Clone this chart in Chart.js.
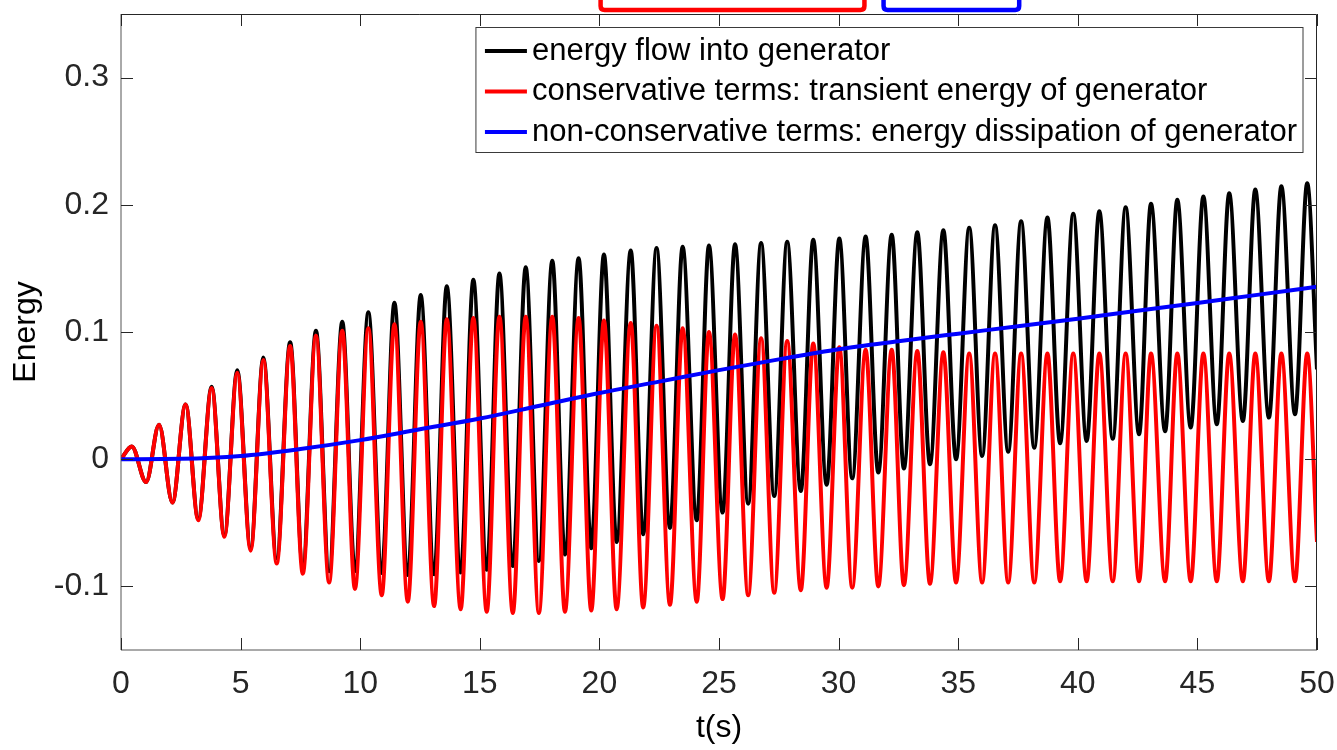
<!DOCTYPE html>
<html>
<head>
<meta charset="utf-8">
<script src="https://cdn.jsdelivr.net/npm/chart.js@4.4.1/dist/chart.umd.min.js"></script>
<style>
  html, body { margin: 0; padding: 0; background: #ffffff; }
  #wrap { width: 1337px; height: 750px; position: relative; }
</style>
</head>
<body>
<div id="wrap"><canvas id="c" width="1337" height="750"></canvas></div>
<script>
// ---------------- data ----------------
const seriesLabels = [
  'energy flow into generator',
  'conservative terms: transient energy of generator',
  'non-conservative terms: energy dissipation of generator'
];
const xTicks = [0, 5, 10, 15, 20, 25, 30, 35, 40, 45, 50];
const xTickLabels = ['0', '5', '10', '15', '20', '25', '30', '35', '40', '45', '50'];
const yTicks = [-0.1, 0, 0.1, 0.2, 0.3];
const yTickLabels = ['-0.1', '0', '0.1', '0.2', '0.3'];

// times (s) of local maxima and minima of the oscillation
const peakT = [0.45, 1.59, 2.70, 3.79, 4.86, 5.95, 7.07, 8.15, 9.25,
  10.34, 11.43, 12.53, 13.62, 14.73, 15.82, 16.92, 18.03, 19.13,
  20.19, 21.31, 22.39, 23.48, 24.58, 25.67, 26.76, 27.85, 28.94,
  30.03,
  31.13, 32.22, 33.29, 34.38, 35.46, 36.54, 37.63, 38.73, 39.81,
  40.90, 42.00, 43.06, 44.16, 45.25, 46.33, 47.42, 48.51, 49.59];
const troughT = [1.05, 2.15, 3.23, 4.32, 5.42, 6.51, 7.60, 8.70, 9.78,
  10.90, 11.99, 13.09, 14.20, 15.29, 16.38, 17.47, 18.56, 19.66,
  20.72, 21.83, 22.95, 24.07, 25.15, 26.22, 27.31, 28.42, 29.50,
  30.57, 31.66, 32.73, 33.82, 34.91, 36.00, 37.09, 38.18, 39.26,
  40.37, 41.46, 42.56, 43.65, 44.72, 45.81, 46.90, 47.99, 49.08];

// conservative terms (red)
const redPeaks = [0.010, 0.027, 0.043, 0.056, 0.068, 0.078, 0.089, 0.097, 0.101,
  0.103, 0.106, 0.108, 0.110, 0.111, 0.112, 0.112, 0.112, 0.111,
  0.109, 0.107, 0.105, 0.103, 0.100, 0.098, 0.095, 0.093, 0.091,
  0.088,
  0.086, 0.086, 0.085, 0.084, 0.083, 0.083, 0.083, 0.083, 0.083,
  0.083, 0.083, 0.083, 0.083, 0.083, 0.083, 0.083, 0.083, 0.083];
const redTroughs = [-0.018, -0.034, -0.048, -0.061, -0.072, -0.082, -0.090, -0.097, -0.102,
  -0.107, -0.112, -0.1155, -0.118, -0.120, -0.121, -0.121, -0.120, -0.119,
  -0.118, -0.1165, -0.1145, -0.112, -0.110, -0.107, -0.105, -0.103, -0.101,
  -0.101, -0.100, -0.099, -0.098, -0.097, -0.097, -0.097, -0.097, -0.096,
  -0.096, -0.096, -0.096, -0.096, -0.096, -0.096, -0.096, -0.096, -0.096];
const redStart = 0;
const redEnd = -0.065;

// energy flow into generator (black)
const blackPeaks = [0.010, 0.027, 0.043, 0.057, 0.070, 0.080, 0.092, 0.101, 0.108,
  0.1155, 0.123, 0.129, 0.136, 0.141, 0.146, 0.151, 0.156, 0.158,
  0.161, 0.164, 0.166, 0.167, 0.168, 0.169, 0.170, 0.171, 0.1725,
  0.1735,
  0.175, 0.1765, 0.1785, 0.180, 0.182, 0.184, 0.187, 0.190, 0.193,
  0.195, 0.198, 0.2008, 0.204, 0.2065, 0.209, 0.212, 0.2145, 0.217];
const blackTroughs = [-0.018, -0.034, -0.047, -0.060, -0.070, -0.078, -0.084, -0.088, -0.088,
  -0.0895, -0.091, -0.0905, -0.089, -0.087, -0.084, -0.080, -0.075, -0.070,
  -0.065, -0.059, -0.054, -0.048, -0.042, -0.035, -0.029, -0.025, -0.020,
  -0.015, -0.0105, -0.0073, -0.004, 0.000, 0.0026, 0.0058, 0.009, 0.0125,
  0.0144, 0.016, 0.0196, 0.022, 0.0249, 0.0275, 0.030, 0.0327, 0.0353];
const blackStart = 0;
const blackEnd = 0.0706;

// non-conservative terms (blue)
const blueT = [0, 2.5, 5, 7.5, 10, 12.5, 15, 17.5, 20, 22.5, 25, 27.5, 30, 32.5, 35, 37.5, 40, 42.5, 45, 47.5, 50];
const blueV = [0, 0.0003, 0.0025, 0.008, 0.015, 0.0235, 0.032, 0.042, 0.052, 0.061, 0.070, 0.0785, 0.0865, 0.0928, 0.0987, 0.1045, 0.1105, 0.1167, 0.1228, 0.1292, 0.1355];

const xMin = 0, xMax = 50, yMin = -0.15, yMax = 0.35;

// ---------------- build point lists ----------------
function oscillation(startV, peaks, troughs, endV) {
  const pts = [{x: xMin, y: startV}];
  for (let i = 0; i < peakT.length; i++) {
    pts.push({x: peakT[i], y: peaks[i]});
    if (i < troughT.length) pts.push({x: troughT[i], y: troughs[i]});
  }
  pts.push({x: xMax, y: endV});
  return pts;
}
const blackPts = oscillation(blackStart, blackPeaks, blackTroughs, blackEnd);
const redPts = oscillation(redStart, redPeaks, redTroughs, redEnd);
const bluePts = blueT.map((t, i) => ({x: t, y: blueV[i]}));

// ---------------- style ----------------
const FONT = '"Liberation Sans", Arial, Helvetica, sans-serif';
const AXIS_COLOR = '#262626';

function noScalePadding(s) {
  s.paddingTop = 0; s.paddingBottom = 0; s.paddingLeft = 0; s.paddingRight = 0;
}

const frame = {
  id: 'matlabFrame',
  afterDatasetsDraw(chart) {
    const {ctx, chartArea: a, scales} = chart;
    const xs = scales.x, ys = scales.y;
    ctx.save();
    // axes box: left/bottom drawn soft (as in the reference), top/right crisp
    ctx.lineWidth = 1;
    ctx.strokeStyle = '#555555';
    ctx.beginPath();
    ctx.moveTo(a.left, a.top); ctx.lineTo(a.left, a.bottom); ctx.lineTo(a.right, a.bottom);
    ctx.stroke();
    ctx.strokeStyle = AXIS_COLOR;
    ctx.beginPath();
    ctx.moveTo(a.left, a.top + 0.5); ctx.lineTo(a.right - 0.5, a.top + 0.5); ctx.lineTo(a.right - 0.5, a.bottom);
    ctx.stroke();
    // inward ticks on all sides
    const TL = 12;
    ctx.beginPath();
    xTicks.forEach(v => {
      const px = Math.round(xs.getPixelForValue(v)) + 0.5;
      ctx.moveTo(px, a.bottom); ctx.lineTo(px, a.bottom - TL);
      ctx.moveTo(px, a.top); ctx.lineTo(px, a.top + TL);
    });
    yTicks.forEach(v => {
      const py = Math.round(ys.getPixelForValue(v)) + 0.5;
      ctx.moveTo(a.left, py); ctx.lineTo(a.left + TL, py);
      ctx.moveTo(a.right, py); ctx.lineTo(a.right - TL, py);
    });
    ctx.stroke();

    // legend box inside axes (north-east)
    ctx.font = '31px ' + FONT;
    const labels = chart.data.datasets.map(d => d.label);
    const maxW = Math.max(...labels.map(l => ctx.measureText(l).width));
    const right = a.right - 14;
    const top = a.top + 13.5;
    const left = right - maxW - 62;
    const rowH = 40.5;
    const h = rowH * labels.length + 3.5;
    ctx.fillStyle = '#ffffff';
    ctx.fillRect(left, top, right - left, h);
    ctx.strokeStyle = '#3a3a3a';
    ctx.lineWidth = 1;
    ctx.strokeRect(left, top, right - left, h);
    chart.data.datasets.forEach((d, i) => {
      const cy = top + 23.5 + i * rowH;
      ctx.strokeStyle = d.borderColor;
      ctx.lineWidth = 4;
      ctx.beginPath();
      ctx.moveTo(left + 9, cy); ctx.lineTo(left + 51, cy);
      ctx.stroke();
      ctx.fillStyle = '#000000';
      ctx.textAlign = 'left';
      ctx.textBaseline = 'middle';
      ctx.fillText(d.label, left + 56, cy);
    });

    // partially visible annotation boxes above the axes
    const boxes = [
      {x0: 20.05, x1: 31.08, color: '#ff0000'},
      {x0: 31.88, x1: 37.55, color: '#0000ff'}
    ];
    boxes.forEach(b => {
      const x0 = xs.getPixelForValue(b.x0), x1 = xs.getPixelForValue(b.x1);
      const yb = a.top - 4;
      ctx.strokeStyle = b.color;
      ctx.lineWidth = 4.5;
      ctx.beginPath();
      ctx.moveTo(x0, -20);
      ctx.lineTo(x0, yb - 4);
      ctx.quadraticCurveTo(x0, yb, x0 + 4, yb);
      ctx.lineTo(x1 - 4, yb);
      ctx.quadraticCurveTo(x1, yb, x1, yb - 4);
      ctx.lineTo(x1, -20);
      ctx.stroke();
    });
    ctx.restore();
  }
};

new Chart(document.getElementById('c'), {
  type: 'line',
  data: {
    datasets: [
      {label: seriesLabels[0], data: blackPts, borderColor: '#000000', order: 3},
      {label: seriesLabels[1], data: redPts, borderColor: '#ff0000', order: 2},
      {label: seriesLabels[2], data: bluePts, borderColor: '#0000ff', order: 1}
    ]
  },
  options: {
    responsive: false,
    animation: false,
    parsing: false,
    normalized: true,
    layout: {padding: {left: 0, top: 14, right: 20, bottom: 0}},
    elements: {
      line: {borderWidth: 4, cubicInterpolationMode: 'monotone', fill: false, capBezierPoints: true},
      point: {radius: 0, hoverRadius: 0}
    },
    plugins: {legend: {display: false}, tooltip: {enabled: false}, title: {display: false}},
    events: [],
    scales: {
      x: {
        type: 'linear', min: xMin, max: xMax,
        grid: {display: false, drawTicks: false},
        border: {display: false},
        afterBuildTicks: s => { s.ticks = xTicks.map(v => ({value: v})); },
        afterFit: s => { s.height = 100; noScalePadding(s); },
        ticks: {
          autoSkip: false, maxRotation: 0, padding: 15,
          color: AXIS_COLOR, font: {family: FONT, size: 32},
          callback: (v, i) => xTickLabels[i]
        },
        title: {display: true, text: 't(s)', color: '#000000', font: {family: FONT, size: 32}, padding: {top: 0, bottom: 3}}
      },
      y: {
        type: 'linear', min: yMin, max: yMax,
        grid: {display: false, drawTicks: false},
        border: {display: false},
        afterBuildTicks: s => { s.ticks = yTicks.map(v => ({value: v})); },
        afterFit: s => { s.width = 121; noScalePadding(s); },
        ticks: {
          autoSkip: false, padding: 12,
          color: AXIS_COLOR, font: {family: FONT, size: 32},
          callback: (v, i) => yTickLabels[i]
        },
        title: {display: true, text: 'Energy', color: '#000000', font: {family: FONT, size: 32}, padding: {top: 7, bottom: 0}}
      }
    }
  },
  plugins: [frame]
});
</script>
</body>
</html>
